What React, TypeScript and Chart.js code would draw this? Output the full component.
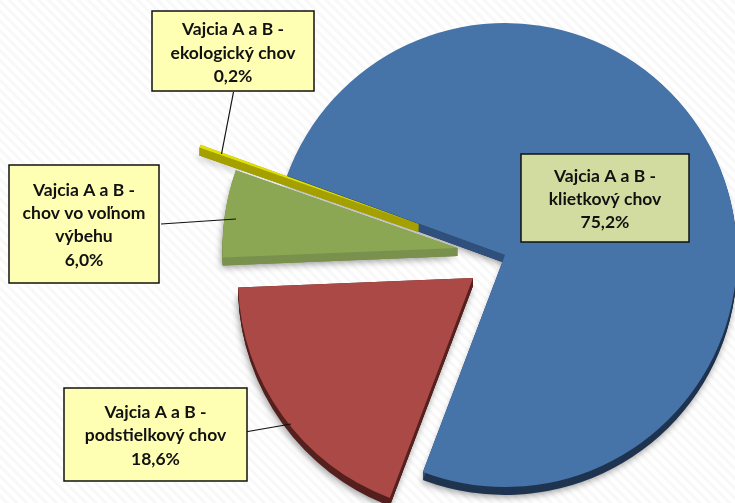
import React, { useEffect, useRef } from "react";
import { Chart, registerables } from "chart.js";

Chart.register(...registerables);

const categories = ["klietkový chov", "podstielkový chov", "chov vo voľnom výbehu", "ekologický chov"];
const values = [75.2, 18.6, 6.0, 0.2];
const valueLabels = ["75,2%", "18,6%", "6,0%", "0,2%"];
const sliceColors = ["#4674a8", "#aa4945", "#8ba753", "#e2e000"];
const rimColors = ["#1f3450", "#55201e", "#7a914e", "#a3a000"];
const cutColors = ["#2f4f7c", "#55201e", "#7a914e", "#a3a000"];
const explode = [0, 39.5, 48, 92];
const radii = [232, 235, 235, 232];
const labelLines = [
  ["Vajcia A a B -", "klietkový chov", valueLabels[0]],
  ["Vajcia A a B -", "podstielkový chov", valueLabels[1]],
  ["Vajcia A a B -", "chov vo voľnom", "výbehu", valueLabels[2]],
  ["Vajcia A a B -", "ekologický chov", valueLabels[3]],
];
const boxFills = ["#d3dca0", "#ffffb4", "#ffffb4", "#ffffb4"];

const DEPTH = 8;
const boxes = [
  { x: 521, y: 154, w: 168, h: 88, ys: [176, 199, 222] },
  { x: 64, y: 388, w: 183, h: 93, ys: [412, 435, 459] },
  { x: 9, y: 165, w: 150, h: 118, ys: [190, 213, 236, 260] },
  { x: 152, y: 11, w: 162, h: 80, ys: [29, 53, 76] },
];
const leaders = [
  null,
  [245, 432, 291, 424],
  [161, 224, 236, 219],
  [233.5, 92, 221.5, 154],
];

const explodePlugin = {
  id: "explode",
  afterDatasetUpdate(chart: any) {
    const arcs = chart.getDatasetMeta(0).data;
    arcs.forEach((a: any, i: number) => {
      const mid = (a.startAngle + a.endAngle) / 2;
      a.x += Math.cos(mid) * explode[i];
      a.y += Math.sin(mid) * explode[i];
      a.outerRadius = radii[i];
    });
  },
};

function sector(ctx: CanvasRenderingContext2D, a: any, dy: number) {
  ctx.beginPath();
  ctx.moveTo(a.x, a.y + dy);
  ctx.arc(a.x, a.y + dy, a.outerRadius, a.startAngle, a.endAngle);
  ctx.closePath();
}

const slicesPlugin = {
  id: "slices",
  beforeDatasetDraw(chart: any) {
    const ctx: CanvasRenderingContext2D = chart.ctx;
    const arcs = chart.getDatasetMeta(0).data;
    ctx.save();
    ctx.shadowColor = "rgba(0,0,0,0.4)";
    ctx.shadowBlur = 7;
    ctx.shadowOffsetX = -1;
    ctx.shadowOffsetY = 2;
    arcs.forEach((a: any) => {
      sector(ctx, a, DEPTH);
      ctx.fillStyle = "#999";
      ctx.fill();
    });
    ctx.restore();
    arcs.forEach((a: any, i: number) => {
      ctx.save();
      ctx.fillStyle = rimColors[i];
      for (let d = DEPTH; d >= 1; d--) {
        sector(ctx, a, d);
        ctx.fill();
      }
      ctx.fillStyle = cutColors[i];
      [a.startAngle, a.endAngle].forEach((ang: number) => {
        const ex = a.x + Math.cos(ang) * a.outerRadius;
        const ey = a.y + Math.sin(ang) * a.outerRadius;
        ctx.beginPath();
        ctx.moveTo(a.x, a.y);
        ctx.lineTo(ex, ey);
        ctx.lineTo(ex, ey + DEPTH);
        ctx.lineTo(a.x, a.y + DEPTH);
        ctx.closePath();
        ctx.fill();
      });
      ctx.restore();
      a.draw(ctx);
    });
    return false;
  },
};

const labelsPlugin = {
  id: "calloutLabels",
  afterDatasetsDraw(chart: any) {
    const ctx: CanvasRenderingContext2D = chart.ctx;
    ctx.save();
    leaders.forEach((l) => {
      if (!l) return;
      ctx.beginPath();
      ctx.moveTo(l[0], l[1]);
      ctx.lineTo(l[2], l[3]);
      ctx.strokeStyle = "#111";
      ctx.lineWidth = 1.2;
      ctx.stroke();
    });
    boxes.forEach((b, i) => {
      ctx.fillStyle = boxFills[i];
      ctx.fillRect(b.x, b.y, b.w, b.h);
      ctx.strokeStyle = "#111";
      ctx.lineWidth = 1.5;
      ctx.strokeRect(b.x, b.y, b.w, b.h);
      ctx.fillStyle = "#111";
      ctx.font = 'bold 17.5px Lato, "Open Sans", sans-serif';
      ctx.textAlign = "center";
      ctx.textBaseline = "middle";
      labelLines[i].forEach((line, j) => {
        ctx.fillText(line, b.x + b.w / 2, b.ys[j]);
      });
    });
    ctx.restore();
  },
};

export default function App() {
  const ref = useRef<HTMLCanvasElement>(null);
  useEffect(() => {
    document.body.style.margin = "0";
    const chart = new Chart(ref.current as HTMLCanvasElement, {
      type: "pie",
      data: {
        labels: categories,
        datasets: [
          {
            data: values,
            backgroundColor: sliceColors,
            borderWidth: 0,
            clip: false,
          } as any,
        ],
      },
      options: {
        responsive: false,
        animation: false,
        rotation: -70,
        radius: 232,
        layout: { padding: { left: 275, right: 0, top: 7, bottom: 0 } },
        plugins: { legend: { display: false }, tooltip: { enabled: false } },
        events: [],
      } as any,
      plugins: [explodePlugin, slicesPlugin, labelsPlugin],
    });
    return () => chart.destroy();
  }, []);
  return (
    <div
      style={{
        position: "relative",
        width: 735,
        height: 503,
        overflow: "hidden",
        background:
          "repeating-linear-gradient(45deg, #ffffff 0px, #ffffff 3px, #f8f8f8 4px, #f8f8f8 6px, #ffffff 7px)",
      }}
    >
      <canvas ref={ref} width={735} height={503} style={{ display: "block" }} />
    </div>
  );
}
